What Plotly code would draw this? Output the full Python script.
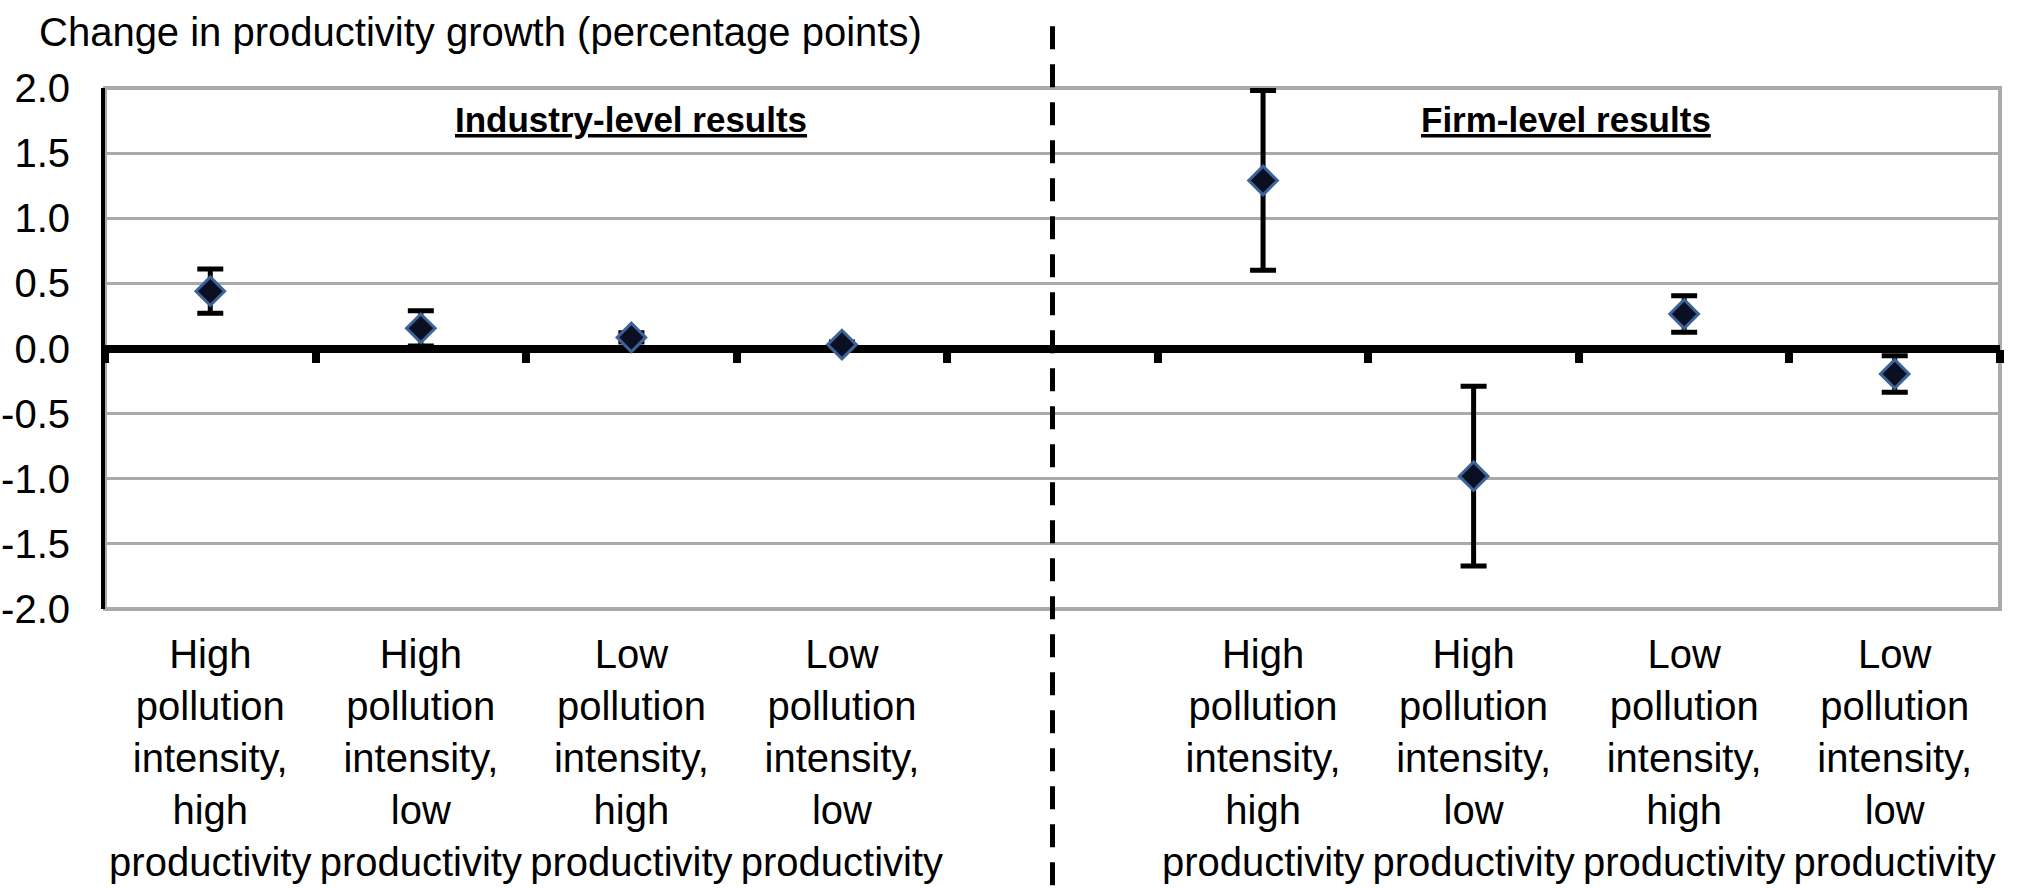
import plotly.graph_objects as go

# ---------------- data ----------------
y_title = "Change in productivity growth (percentage points)"
panel_titles = ["Industry-level results", "Firm-level results"]
group_labels = [
    "High<br>pollution<br>intensity,<br>high<br>productivity",
    "High<br>pollution<br>intensity,<br>low<br>productivity",
    "Low<br>pollution<br>intensity,<br>high<br>productivity",
    "Low<br>pollution<br>intensity,<br>low<br>productivity",
]
industry_est = [0.44, 0.155, 0.085, 0.03]
industry_err = [0.17, 0.135, 0.035, 0.02]
firm_est = [1.29, -0.98, 0.265, -0.195]
firm_err = [0.69, 0.69, 0.14, 0.14]
y_ticks = [-2.0, -1.5, -1.0, -0.5, 0.0, 0.5, 1.0, 1.5, 2.0]

# ---------------- layout helpers ----------------
FONT = "Liberation Sans, Arial, sans-serif"
n = len(group_labels)
categories = group_labels + [""] + group_labels          # blank slot = divider
x_all = list(range(len(categories)))
x_ind = x_all[:n]
x_firm = x_all[n + 1:]
divider_x = x_all[n]
xmin, xmax = -0.5, len(categories) - 0.5
ymin, ymax = y_ticks[0], y_ticks[-1]
boundaries = [i - 0.5 for i in range(len(categories) + 1)]
y_ticktext = [f"{v:.1f}" for v in y_ticks]

marker = dict(symbol="diamond", size=22, color="#0b0f22",
              line=dict(color="#3d6499", width=3))

fig = go.Figure()
for xs, ys, es in [(x_ind, industry_est, industry_err), (x_firm, firm_est, firm_err)]:
    fig.add_trace(go.Scatter(
        x=xs, y=ys, mode="markers", marker=marker, showlegend=False,
        error_y=dict(type="data", array=es, visible=True, color="#000000",
                     thickness=5, width=13),
        cliponaxis=False,
    ))
# invisible trace so that the zero-line tick axis exists
fig.add_trace(go.Scatter(x=boundaries, y=[0] * len(boundaries), mode="none",
                         xaxis="x2", showlegend=False, hoverinfo="skip"))

fig.update_layout(
    width=2033, height=888,
    margin=dict(l=105, r=33, t=88, b=279),
    plot_bgcolor="white", paper_bgcolor="white",
    font=dict(family=FONT, size=40, color="#000000"),
    xaxis=dict(range=[xmin, xmax], tickvals=x_all, ticktext=categories,
               showgrid=False, zeroline=False, showline=False, ticks="",
               tickfont=dict(size=40, family=FONT, color="#000000"),
               ticklabelstandoff=18, automargin=False),
    xaxis2=dict(range=[xmin, xmax], overlaying="x", anchor="free",
                position=(0 - ymin) / (ymax - ymin), side="bottom",
                tickvals=boundaries, ticks="outside", ticklen=13, tickwidth=8,
                tickcolor="#000000", showticklabels=False, showgrid=False,
                zeroline=False, showline=False, automargin=False),
    yaxis=dict(range=[ymin, ymax], tickvals=y_ticks, ticktext=y_ticktext,
               showgrid=True, gridcolor="#aaaaaa", gridwidth=3,
               zeroline=True, zerolinecolor="#000000", zerolinewidth=8,
               showline=True, linecolor="#000000", linewidth=4, ticks="",
               tickfont=dict(size=40, family=FONT, color="#000000"),
               ticklabelstandoff=23, automargin=False),
    title=dict(text=y_title, xref="container", yref="container",
               x=39 / 2033, xanchor="left", y=1 - 32 / 888, yanchor="middle",
               font=dict(size=40, family=FONT, color="#000000")),
)

# plot border (grey) on top / right / bottom
fig.add_shape(type="rect", xref="x domain", yref="y domain", x0=0, x1=1, y0=0, y1=1,
              line=dict(color="#aaaaaa", width=4), layer="below")

# dashed divider between the two panels
div_frac = (divider_x - xmin) / (xmax - xmin)
fig.add_shape(type="line", xref="x domain", yref="paper",
              x0=div_frac, x1=div_frac, y0=-0.53, y1=1.13,
              line=dict(color="#000000", width=5, dash="23px,15px"))

# panel titles
panel_x = [x_ind[2], x_firm[1] + 0.44]
for t, px in zip(panel_titles, panel_x):
    fig.add_annotation(x=px, y=1.76, xref="x", yref="y", showarrow=False,
                       text="<b><u>" + t + "</u></b>",
                       font=dict(size=35, family=FONT, color="#000000"))

fig.write_html("out.html", config=dict(displayModeBar=False),
               post_script="document.body.style.margin='0';document.body.style.overflow='hidden';")
